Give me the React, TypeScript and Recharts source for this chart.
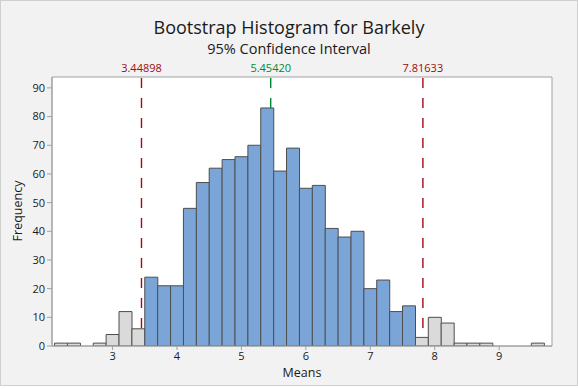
import React from 'react';
import {
  ComposedChart,
  Bar,
  Cell,
  XAxis,
  YAxis,
  ReferenceLine,
  ReferenceArea,
} from 'recharts';

// bootstrap means, bins of width 0.2 centred on these values
const binCenters = [
  2.2, 2.4, 2.6, 2.8, 3.0, 3.2, 3.4, 3.6, 3.8, 4.0, 4.2, 4.4, 4.6, 4.8, 5.0, 5.2, 5.4, 5.6, 5.8,
  6.0, 6.2, 6.4, 6.6, 6.8, 7.0, 7.2, 7.4, 7.6, 7.8, 8.0, 8.2, 8.4, 8.6, 8.8, 9.0, 9.2, 9.4, 9.6,
];
const counts = [
  1, 1, 0, 1, 4, 12, 6, 24, 21, 21, 48, 57, 62, 65, 66, 70, 83, 61, 69,
  55, 56, 41, 38, 40, 20, 23, 12, 14, 3, 10, 8, 1, 1, 1, 0, 0, 0, 1,
];
const binWidth = 0.2;
const lowerCI = 3.44898;
const upperCI = 7.81633;
const meanValue = 5.4542;
const xTicks = [3, 4, 5, 6, 7, 8, 9];
const yTicks = [0, 10, 20, 30, 40, 50, 60, 70, 80, 90];

const X_DOMAIN: [number, number] = [2.06, 9.82];
const Y_DOMAIN: [number, number] = [0, 93.8];

const FONT = '"Segoe UI", "Open Sans", sans-serif';
const BLUE = '#7BA5D7';
const GREY = '#DADADA';
const RED = '#A00A12';
const GREEN = '#008A2E';

const data = binCenters.map((x, i) => ({ x, count: counts[i] }));

const inInterval = (x: number) =>
  x - binWidth / 2 >= lowerCI && x + binWidth / 2 <= upperCI;

export default function App() {
  const W = 578;
  const H = 389;

  return (
    <div
      style={{
        position: 'absolute',
        left: 0,
        top: 0,
        width: W,
        height: H,
        background: '#fff',
        fontFamily: FONT,
      }}
    >
      <div
        style={{
          position: 'absolute',
          left: 0,
          top: 0,
          width: W,
          height: 386,
          boxSizing: 'border-box',
          border: '1px solid #CFCFCF',
          background: '#F2F2F2',
        }}
      />
      <div style={{ position: 'absolute', left: 0, top: 0 }}>
        <ComposedChart
          width={W}
          height={H}
          data={data}
          margin={{ top: 77, right: 26, bottom: 0, left: 0 }}
          barCategoryGap={0}
          barGap={0}
        >
          <XAxis
            dataKey="x"
            type="number"
            domain={X_DOMAIN}
            ticks={xTicks}
            allowDataOverflow
            stroke="#A0A0A0"
            tickSize={4}
            tick={{ fill: '#1A1A1A', fontSize: 11, fontFamily: FONT }}
            height={43}
          />
          <YAxis
            type="number"
            domain={Y_DOMAIN}
            ticks={yTicks}
            allowDataOverflow
            stroke="#A0A0A0"
            tickSize={5}
            tick={{ fill: '#1A1A1A', fontSize: 11, fontFamily: FONT }}
            width={52}
          />
          <ReferenceArea
            x1={X_DOMAIN[0]}
            x2={X_DOMAIN[1]}
            y1={Y_DOMAIN[0]}
            y2={Y_DOMAIN[1]}
            fill="#FFFFFF"
            fillOpacity={1}
            stroke="#A0A0A0"
            strokeWidth={1}
            zIndex={-10}
          />
          <ReferenceLine
            x={lowerCI}
            stroke={RED}
            strokeWidth={1.4}
            strokeDasharray="10 10"
            strokeDashoffset={2}
            zIndex={50}
            label={{ value: '3.44898', position: 'top', fill: RED, fontSize: 11, fontFamily: FONT }}
          />
          <ReferenceLine
            x={meanValue}
            stroke={GREEN}
            strokeWidth={1.4}
            strokeDasharray="10 10"
            strokeDashoffset={2}
            zIndex={50}
            label={{ value: '5.45420', position: 'top', fill: GREEN, fontSize: 11, fontFamily: FONT }}
          />
          <ReferenceLine
            x={upperCI}
            stroke={RED}
            strokeWidth={1.4}
            strokeDasharray="10 10"
            strokeDashoffset={2}
            zIndex={50}
            label={{ value: '7.81633', position: 'top', fill: RED, fontSize: 11, fontFamily: FONT }}
          />
          <Bar dataKey="count" stroke="#4D4D4D" strokeWidth={1} isAnimationActive={false}>
            {data.map((d) => (
              <Cell key={d.x} fill={inInterval(d.x) ? BLUE : GREY} />
            ))}
          </Bar>
        </ComposedChart>
      </div>
      <svg
        width={W}
        height={H}
        style={{ position: 'absolute', left: 0, top: 0, pointerEvents: 'none' }}
      >
        <text x={289} y={34} textAnchor="middle" fontSize={18} fill="#1A1A1A" fontFamily={FONT}>
          Bootstrap Histogram for Barkely
        </text>
        <text x={289} y={54} textAnchor="middle" fontSize={14.5} fill="#1A1A1A" fontFamily={FONT}>
          95% Confidence Interval
        </text>
        <text x={302} y={377} textAnchor="middle" fontSize={12.5} fill="#1A1A1A" fontFamily={FONT}>
          Means
        </text>
        <text
          x={22}
          y={211}
          textAnchor="middle"
          fontSize={12.5}
          fill="#1A1A1A"
          fontFamily={FONT}
          transform="rotate(-90 22 211)"
        >
          Frequency
        </text>
      </svg>
    </div>
  );
}
